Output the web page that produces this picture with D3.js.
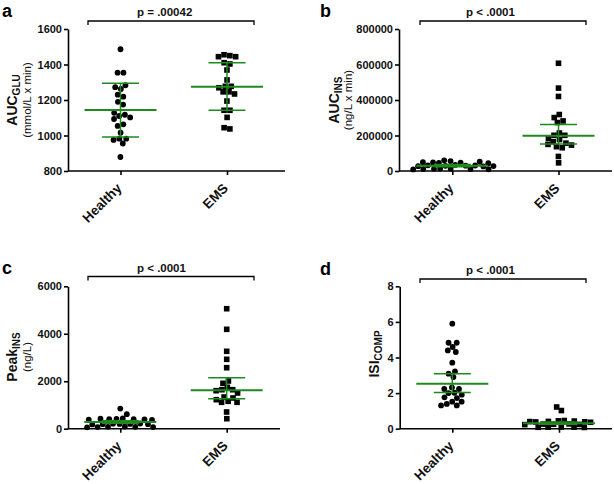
<!DOCTYPE html>
<html><head><meta charset="utf-8">
<script src="https://cdn.jsdelivr.net/npm/d3@7"></script>
<style>
body{margin:0;background:#fff;}
svg{display:block;font-family:"Liberation Sans",Arial,sans-serif;}
</style></head>
<body><svg id="c" width="614" height="484"></svg>
<script>
// ---------- data ----------
const groups = ["Healthy", "EMS"];

const aHealthy = [1486,1354,1354,1283,1272,1262,1230,1219,1190,1174,1128,1117,1110,1102,1093,1063,1054,1016,982,982,975,955,879];
const aEMS = [1455,1450,1444,1444,1410,1403,1369,1313,1277,1277,1269,1246,1246,1234,1194,1142,1142,1102,1044,1037];
const aCenter = [1143, 1275], aLow = [991, 1142], aHigh = [1294, 1410];
const aTicks = [800, 1000, 1200, 1400, 1600];

const bHealthy = [60000,56000,52000,50000,48000,47000,46000,44000,34000,32000,31000,30000,29000,28000,27000,26000,14000,13000,12000,11000,11000,10000,9000];
const bEMS = [607000,467000,420000,318000,301000,282000,273000,214000,201000,201000,184000,177000,165000,157000,150000,146000,137000,131000,82000,46000];
const bCenter = [30000, 199000], bLow = [24000, 152000], bHigh = [36000, 262000];
const bTicks = [0, 200000, 400000, 600000, 800000];

const cHealthy = [850,610,430,420,410,400,400,390,380,370,220,210,200,200,190,190,180,90,80,80,70,70,60];
const cEMS = [5056,4188,3261,2924,2570,2010,1913,1744,1643,1643,1601,1504,1336,1294,1222,1154,1112,1112,704,421];
const cCenter = [280, 1618], cLow = [230, 1265], cHigh = [330, 2150];
const cTicks = [0, 2000, 4000, 6000];

const dHealthy = [5.90,4.83,4.83,4.59,4.40,4.31,3.71,3.22,3.09,2.90,2.32,2.23,2.23,2.02,2.00,1.91,1.76,1.72,1.52,1.52,1.39,1.31,1.31];
const dEMS = [1.22,1.02,0.46,0.44,0.43,0.41,0.40,0.39,0.38,0.36,0.27,0.26,0.25,0.24,0.23,0.10,0.09,0.09,0.08,0.07];
const dCenter = [2.53, 0.30], dLow = [2.04, 0.25], dHigh = [3.09, 0.38];
const dTicks = [0, 2, 4, 6, 8];

const pLabels = ["p = .00042", "p < .0001", "p < .0001", "p < .0001"];
const panelLetters = ["a", "b", "c", "d"];
const yTitles = [["AUC", "GLU"], ["AUC", "INS"], ["Peak", "INS"], ["ISI", "COMP"]];
const ySubtitles = ["(mmol/L x min)", "(ng/L x min)", "(ng/L)", ""];

// ---------- layout ----------
const GREEN = "#1e8a1e";
const panels = [
  {healthy:aHealthy, ems:aEMS, center:aCenter, low:aLow, high:aHigh, ticks:aTicks,
   left:68, right:285, top:29, bottom:171, xs:[120.5,227], letterX:2, letterY:16.5,
   brY:21, brX:[88,254], pX:137, pY:16, t1X:16.5, t2X:31, tY:100},
  {healthy:bHealthy, ems:bEMS, center:bCenter, low:bLow, high:bHigh, ticks:bTicks,
   left:399, right:612, top:29, bottom:171, xs:[452.3,558.5], letterX:320, letterY:16.5,
   brY:21, brX:[420,586], pX:466, pY:16, t1X:338.5, t2X:351.5, tY:100},
  {healthy:cHealthy, ems:cEMS, center:cCenter, low:cLow, high:cHigh, ticks:cTicks,
   left:68, right:280, top:286.3, bottom:428.7, xs:[120.3,226.7], letterX:2, letterY:274,
   brY:276.5, brX:[88,254], pX:137, pY:272, t1X:16.5, t2X:31, tY:357},
  {healthy:dHealthy, ems:dEMS, center:dCenter, low:dLow, high:dHigh, ticks:dTicks,
   left:399.7, right:612, top:286.3, bottom:428.7, xs:[452.3,559], letterX:320, letterY:275,
   brY:279, brX:[420,586], pX:466, pY:274, t1X:378.5, t2X:0, tY:354}
];

const svg = d3.select("#c");

function swarm(values, y, cx) {
  const nodes = values.map((v, i) => ({v, fy: y(v), x: cx + (i % 2 ? 1 : -1) * (i * 0.37 + 0.2), y: y(v)}));
  const sim = d3.forceSimulation(nodes)
    .force("x", d3.forceX(cx).strength(0.06))
    .force("col", d3.forceCollide(2.95).iterations(4))
    .stop();
  for (let i = 0; i < 400; i++) sim.tick();
  return nodes;
}

panels.forEach((p, pi) => {
  const g = svg.append("g");
  const y = d3.scaleLinear().domain([p.ticks[0], p.ticks[p.ticks.length - 1]]).range([p.bottom, p.top]);
  const x = d3.scalePoint().domain(groups).range(p.xs);

  // y axis
  const ya = g.append("g").attr("transform", `translate(${p.left},0)`)
    .call(d3.axisLeft(y).tickValues(p.ticks).tickFormat(d3.format("d")).tickSize(4).tickSizeOuter(0).tickPadding(2));
  ya.select(".domain").attr("stroke-width", 1.6);
  ya.selectAll(".tick line").attr("stroke-width", 1.6);
  ya.selectAll(".tick text").attr("font-size", 11).attr("font-weight", "bold").attr("fill", "#111")
    .attr("font-family", "Liberation Sans, Arial, sans-serif");

  // x axis
  g.append("line").attr("x1", p.left).attr("x2", p.right).attr("y1", p.bottom).attr("y2", p.bottom)
    .attr("stroke", "#000").attr("stroke-width", 1.6);
  const xa = g.append("g").attr("transform", `translate(0,${p.bottom})`)
    .call(d3.axisBottom(x).tickSize(4).tickFormat(""));
  xa.select(".domain").remove();
  xa.selectAll(".tick line").attr("stroke-width", 1.6);
  groups.forEach(gr => {
    g.append("text").text(gr)
      .attr("transform", `translate(${x(gr) + 2},${p.bottom + 18}) rotate(-45)`)
      .attr("text-anchor", "end").attr("font-size", 13.5).attr("font-weight", "bold").attr("fill", "#111");
  });

  // data points
  const hn = swarm(p.healthy, y, x("Healthy"));
  const en = swarm(p.ems, y, x("EMS"));
  g.selectAll("circle.pt").data(hn).join("circle").attr("class", "pt")
    .attr("cx", d => d.x).attr("cy", d => d.y).attr("r", 2.9).attr("fill", "#000");
  const s = 5.6;
  g.selectAll("rect.pt").data(en).join("rect").attr("class", "pt")
    .attr("x", d => d.x - s / 2).attr("y", d => d.y - s / 2).attr("width", s).attr("height", s).attr("fill", "#000");

  // summary lines
  groups.forEach((gr, gi) => {
    const cx = x(gr);
    const eg = g.append("g").attr("stroke", GREEN).attr("fill", "none");
    eg.append("line").attr("x1", cx - 36).attr("x2", cx + 36).attr("y1", y(p.center[gi])).attr("y2", y(p.center[gi])).attr("stroke-width", 2);
    eg.append("line").attr("x1", cx).attr("x2", cx).attr("y1", y(p.low[gi])).attr("y2", y(p.high[gi])).attr("stroke-width", 1.5);
    [p.low[gi], p.high[gi]].forEach(v => {
      eg.append("line").attr("x1", cx - 18.5).attr("x2", cx + 18.5).attr("y1", y(v)).attr("y2", y(v)).attr("stroke-width", 1.5);
    });
  });

  // bracket and p text
  g.append("path")
    .attr("d", `M${p.brX[0]},${p.brY + 4}V${p.brY}H${p.brX[1]}V${p.brY + 4}`)
    .attr("fill", "none").attr("stroke", "#000").attr("stroke-width", 1.3);
  g.append("text").text(pLabels[pi]).attr("x", p.pX).attr("y", p.pY)
    .attr("font-size", 11.5).attr("font-weight", "bold").attr("fill", "#111");

  // panel letter
  g.append("text").text(panelLetters[pi]).attr("x", p.letterX).attr("y", p.letterY)
    .attr("font-size", 18).attr("font-weight", "bold").attr("fill", "#000");

  // y titles
  const t1 = g.append("text").attr("transform", `translate(${p.t1X},${p.tY}) rotate(-90)`)
    .attr("text-anchor", "middle").attr("font-weight", "bold").attr("font-size", 14).attr("fill", "#111");
  t1.append("tspan").text(yTitles[pi][0]);
  t1.append("tspan").text(yTitles[pi][1]).attr("font-size", 10).attr("dy", 3);
  if (ySubtitles[pi]) {
    g.append("text").attr("transform", `translate(${p.t2X},${p.tY}) rotate(-90)`)
      .attr("text-anchor", "middle").attr("font-size", 11.5).attr("fill", "#111").text(ySubtitles[pi]);
  }
});
</script></body></html>
